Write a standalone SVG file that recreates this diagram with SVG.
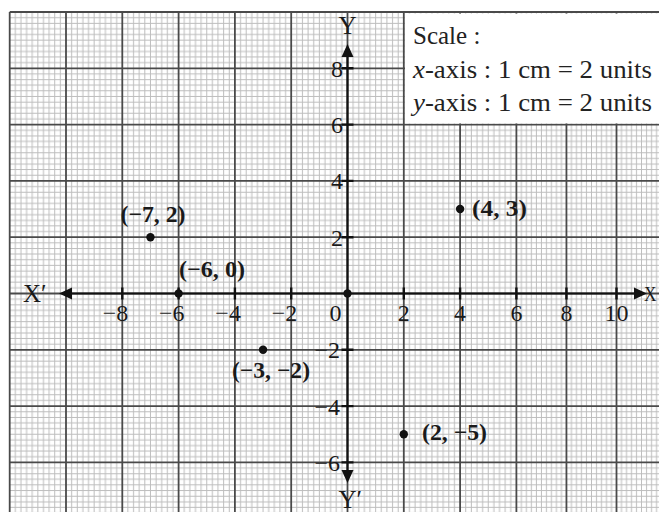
<svg xmlns="http://www.w3.org/2000/svg" width="659" height="512" viewBox="0 0 659 512">
  <style>
    .minor { stroke: #bdbdbd; stroke-width: 1; fill: none; }
    .major { stroke: #4a4a4a; stroke-width: 1.8; fill: none; }
    .axis { stroke: #111; stroke-width: 2.2; fill: none; }
    .tick { stroke: #111; stroke-width: 2.4; }
    text { font-family: "Liberation Serif", "Times New Roman", serif; fill: #1a1a1a; }
    .num { font-size: 24px; }
    .lbl { font-size: 23px; font-weight: bold; }
    .cap { font-size: 25px; }
    .scale { font-size: 25px; fill: #222; }
    .dot { fill: #111; }
    .arrow { fill: #111; }
  </style>
  <defs>
    <pattern id="gA" patternUnits="userSpaceOnUse" x="9.7" y="12" width="56.3" height="56.3">
      <path class="minor" d="M5.63 0V56.3M11.26 0V56.3M16.89 0V56.3M22.52 0V56.3M28.15 0V56.3M33.78 0V56.3M39.41 0V56.3M45.04 0V56.3M50.67 0V56.3M0 5.63H56.3M0 11.26H56.3M0 16.89H56.3M0 22.52H56.3M0 28.15H56.3M0 33.78H56.3M0 39.41H56.3M0 45.04H56.3M0 50.67H56.3"/>
    </pattern>
    <pattern id="gB" patternUnits="userSpaceOnUse" x="516.4" y="12" width="50.05" height="56.3">
      <path class="minor" d="M5.005 0V56.3M10.01 0V56.3M15.015 0V56.3M20.02 0V56.3M25.025 0V56.3M30.03 0V56.3M35.035 0V56.3M40.04 0V56.3M45.045 0V56.3M0 5.63H50.05M0 11.26H50.05M0 16.89H50.05M0 22.52H50.05M0 28.15H50.05M0 33.78H50.05M0 39.41H50.05M0 45.04H50.05M0 50.67H50.05"/>
    </pattern>
  </defs>
  <rect width="659" height="512" fill="#fff"/>
  <g id="grid">
    <rect x="9.7" y="12" width="506.7" height="500" fill="url(#gA)"/>
    <rect x="516.4" y="12" width="142.6" height="500" fill="url(#gB)"/>
    <path class="major" d="M9.7 12V512M66 12V512M122.3 12V512M178.6 12V512M234.9 12V512M291.2 12V512M347.5 12V512M403.8 12V512M460.1 12V512M516.4 12V512M566.45 12V512M616.5 12V512M9.7 12H659M9.7 68.3H659M9.7 124.6H659M9.7 180.9H659M9.7 237.2H659M9.7 293.5H659M9.7 349.8H659M9.7 406.1H659M9.7 462.4H659"/>
  </g>
  <g id="scale-box">
    <rect x="405" y="13.6" width="254" height="109.8" fill="#fff"/>
    <text class="scale" x="413" y="44">Scale :</text>
    <text class="scale" x="413" y="78" textLength="239" lengthAdjust="spacingAndGlyphs"><tspan font-style="italic">x</tspan>-axis : 1 cm = 2 units</text>
    <text class="scale" x="413" y="111" textLength="239" lengthAdjust="spacingAndGlyphs"><tspan font-style="italic">y</tspan>-axis : 1 cm = 2 units</text>
  </g>
  <g id="axes">
    <path class="axis" d="M70 293.5H636M347.5 56V472"/>
    <polygon class="arrow" points="59,293.5 72,287.5 72,299.5"/>
    <polygon class="arrow" points="647,293.5 634,287.5 634,299.5"/>
    <polygon class="arrow" points="347.5,44 341.5,57 353.5,57"/>
    <polygon class="arrow" points="347.5,483 341.5,470 353.5,470"/>
    <path class="tick" d="M122.3 287.5V299.5M178.6 287.5V299.5M234.9 287.5V299.5M291.2 287.5V299.5M403.8 287.5V299.5M460.1 287.5V299.5M516.4 287.5V299.5M566.45 287.5V299.5M616.5 287.5V299.5M341.5 68.3H353.5M341.5 124.6H353.5M341.5 180.9H353.5M341.5 237.2H353.5M341.5 349.8H353.5M341.5 406.1H353.5M341.5 462.4H353.5"/>
    <text class="cap" x="23" y="302">X′</text>
    <text x="644" y="301" font-size="20" textLength="12.5" lengthAdjust="spacingAndGlyphs">X</text>
    <text class="cap" x="338.5" y="34">Y</text>
    <text class="cap" x="338.5" y="508">Y′</text>
  </g>
  <g id="x-labels">
    <text class="num" x="128.3" y="321" text-anchor="end">−8</text>
    <text class="num" x="184.6" y="321" text-anchor="end">−6</text>
    <text class="num" x="240.9" y="321" text-anchor="end">−4</text>
    <text class="num" x="297.2" y="321" text-anchor="end">−2</text>
    <text class="num" x="335.5" y="321" text-anchor="middle">0</text>
    <text class="num" x="403.8" y="321" text-anchor="middle">2</text>
    <text class="num" x="460.1" y="321" text-anchor="middle">4</text>
    <text class="num" x="516.4" y="321" text-anchor="middle">6</text>
    <text class="num" x="566.45" y="321" text-anchor="middle">8</text>
    <text class="num" x="616.5" y="321" text-anchor="middle">10</text>
  </g>
  <g id="y-labels">
    <text class="num" x="343" y="76.5" text-anchor="end">8</text>
    <text class="num" x="343" y="133" text-anchor="end">6</text>
    <text class="num" x="343" y="189.3" text-anchor="end">4</text>
    <text class="num" x="343" y="245.5" text-anchor="end">2</text>
    <text class="num" x="340" y="358" text-anchor="end">−2</text>
    <text class="num" x="340" y="414.5" text-anchor="end">−4</text>
    <text class="num" x="340" y="470.7" text-anchor="end">−6</text>
  </g>
  <g id="p-m7-2">
    <circle class="dot" cx="150.45" cy="237.2" r="4.2"/>
    <text class="lbl" x="120.5" y="222" textLength="65" lengthAdjust="spacingAndGlyphs">(−7, 2)</text>
  </g>
  <g id="p-m6-0">
    <circle class="dot" cx="178.6" cy="293.5" r="4.2"/>
    <text class="lbl" x="179" y="276.5" textLength="66" lengthAdjust="spacingAndGlyphs">(−6, 0)</text>
  </g>
  <g id="p-origin">
    <circle class="dot" cx="347.5" cy="293.5" r="4.2"/>
  </g>
  <g id="p-m3-m2">
    <circle class="dot" cx="263.05" cy="349.8" r="4.2"/>
    <text class="lbl" x="232" y="378" textLength="78" lengthAdjust="spacingAndGlyphs">(−3, −2)</text>
  </g>
  <g id="p-4-3">
    <circle class="dot" cx="460.1" cy="209.05" r="4.2"/>
    <text class="lbl" x="472" y="215.5" textLength="55" lengthAdjust="spacingAndGlyphs">(4, 3)</text>
  </g>
  <g id="p-2-m5">
    <circle class="dot" cx="403.8" cy="434.25" r="4.2"/>
    <text class="lbl" x="422" y="440" textLength="65" lengthAdjust="spacingAndGlyphs">(2, −5)</text>
  </g>
</svg>
